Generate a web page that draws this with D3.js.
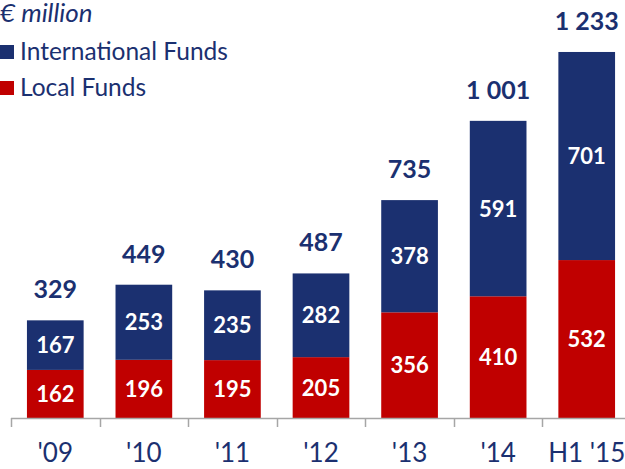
<!DOCTYPE html>
<html>
<head>
<meta charset="utf-8">
<script src="https://cdn.jsdelivr.net/npm/d3@7"></script>
<style>
  body { margin: 0; background: #fff; }
  svg { display: block; font-family: "Lato", "Open Sans", sans-serif; }
</style>
</head>
<body>
<svg id="chart" width="625" height="469"></svg>
<script>
var categories = ["'09", "'10", "'11", "'12", "'13", "'14", "H1 '15"];
var localFunds = [162, 196, 195, 205, 356, 410, 532];
var internationalFunds = [167, 253, 235, 282, 378, 591, 701];
var totals = ["329", "449", "430", "487", "735", "1 001", "1 233"];

var navy = "#1b3070", red = "#c00000";

var svg = d3.select("#chart");

var x = d3.scaleBand()
    .domain(categories)
    .range([11, 631])
    .paddingInner(0.36)
    .paddingOuter(0.18);

var y = d3.scaleLinear()
    .domain([0, 1400])
    .range([418, 2.4]);

var rows = categories.map(function(c, i) {
    return {cat: c, local: localFunds[i], intl: internationalFunds[i], total: totals[i]};
});

// bars
var g = svg.append("g");
rows.forEach(function(d) {
    var bx = x(d.cat), bw = x.bandwidth();
    g.append("rect")
        .attr("x", bx).attr("width", bw)
        .attr("y", y(d.local)).attr("height", y(0) - y(d.local))
        .attr("fill", red);
    g.append("rect")
        .attr("x", bx).attr("width", bw)
        .attr("y", y(d.local + d.intl)).attr("height", y(d.local) - y(d.local + d.intl))
        .attr("fill", navy);

    g.append("text")
        .attr("x", bx + bw / 2).attr("y", y(d.local / 2) + 8)
        .attr("text-anchor", "middle").attr("fill", "#fff")
        .attr("font-weight", "bold").attr("font-size", 22)
        .text(d.local);
    g.append("text")
        .attr("x", bx + bw / 2).attr("y", y(d.local + d.intl / 2) + 8)
        .attr("text-anchor", "middle").attr("fill", "#fff")
        .attr("font-weight", "bold").attr("font-size", 22)
        .text(d.intl);
    g.append("text")
        .attr("x", bx + bw / 2).attr("y", y(d.local + d.intl) - 22)
        .attr("text-anchor", "middle").attr("fill", navy)
        .attr("font-weight", "bold").attr("font-size", 25)
        .text(d.total);
});

// x axis
var axis = svg.append("g");
axis.append("line")
    .attr("x1", 11).attr("x2", 631)
    .attr("y1", 418.5).attr("y2", 418.5)
    .attr("stroke", "#a6a6a6").attr("stroke-width", 1.5);
d3.range(categories.length + 1).forEach(function(i) {
    var tx = Math.round(11 + i * (620 / categories.length)) + 0.5;
    axis.append("line")
        .attr("x1", tx).attr("x2", tx)
        .attr("y1", 418).attr("y2", 427)
        .attr("stroke", "#a6a6a6").attr("stroke-width", 1.5);
});
categories.forEach(function(c) {
    axis.append("text")
        .attr("x", x(c) + x.bandwidth() / 2).attr("y", 462)
        .attr("text-anchor", "middle").attr("fill", navy)
        .attr("font-size", 26)
        .text(c);
});

// title + legend
svg.append("text")
    .attr("x", 0).attr("y", 22)
    .attr("fill", navy).attr("font-style", "italic").attr("font-size", 26)
    .text("€ million");

var legend = [["International Funds", navy], ["Local Funds", red]];
legend.forEach(function(l, i) {
    var ly = 45 + i * 36;
    svg.append("rect")
        .attr("x", 0).attr("y", ly).attr("width", 14).attr("height", 14)
        .attr("fill", l[1]);
    svg.append("text")
        .attr("x", 20).attr("y", ly + 15)
        .attr("fill", navy).attr("font-size", 24.5)
        .text(l[0]);
});
</script>
</body>
</html>
